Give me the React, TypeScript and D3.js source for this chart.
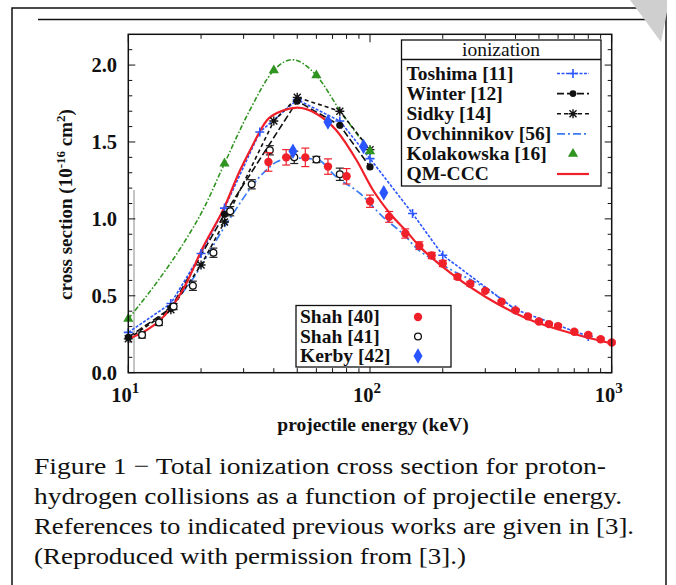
import React from "react";
import * as d3 from "d3";

// ---------- data ----------
const xMajorExps = [1, 2, 3];
const yTickValues = [0, 0.5, 1.0, 1.5, 2.0];

const toshimaE = [10, 15, 20, 25, 35, 50, 75, 100, 150, 200, 400, 800];
const toshimaS = [0.262, 0.45, 0.775, 1.07, 1.565, 1.775, 1.636, 1.392, 1.035, 0.764, 0.41, 0.236];

const winterE = [10, 15, 25, 50, 75, 100];
const winterS = [0.23, 0.42, 1.03, 1.766, 1.608, 1.338];

const sidkyE = [10, 15, 20, 25, 40, 50, 75, 100];
const sidkyS = [0.22, 0.41, 0.7, 0.98, 1.636, 1.79, 1.7, 1.45];

const ovchE = [15, 18.3, 25, 29.5, 32, 38, 41, 48, 60, 72.5, 91, 113, 141, 151, 200, 300, 400];
const ovchS = [0.43, 0.6, 0.948, 1.12, 1.2, 1.33, 1.37, 1.395, 1.388, 1.273, 1.165, 1.013, 0.883, 0.83, 0.7, 0.55, 0.41];

const kolCurveE = [10, 13.3, 16.6, 20.7, 25, 31.8, 40, 47.5, 60, 75, 100];
const kolCurveS = [0.35, 0.6, 0.82, 1.08, 1.36, 1.706, 1.966, 2.035, 1.933, 1.706, 1.44];
const kolPointE = [10, 25, 40, 60, 100];
const kolPointS = [0.35, 1.36, 1.966, 1.933, 1.44];

const cccE = [10, 12, 13.3, 15, 17.5, 20, 25, 29, 32, 37.4, 44, 50, 60, 72.5, 88, 103, 121, 142, 161, 200, 300, 445, 650, 1000];
const cccS = [0.219, 0.28, 0.331, 0.42, 0.59, 0.79, 1.078, 1.316, 1.45, 1.64, 1.706, 1.723, 1.684, 1.576, 1.381, 1.186, 1.035, 0.916, 0.818, 0.688, 0.494, 0.353, 0.266, 0.19];

const shah40E = [38, 45, 54, 67, 80, 100, 120, 140, 160, 180, 200, 230, 260, 300, 350, 400, 450, 500, 550, 600, 700, 800, 900, 1000];
const shah40S = [1.37, 1.4, 1.4, 1.34, 1.277, 1.115, 1.013, 0.905, 0.826, 0.762, 0.71, 0.623, 0.578, 0.532, 0.461, 0.405, 0.366, 0.333, 0.316, 0.303, 0.266, 0.245, 0.217, 0.196];
const shah40Err = [0.06, 0.05, 0.06, 0.05, 0.05, 0.04, 0.035, 0.03, 0.025, 0.02, 0.02, 0.015, 0.015, 0.01, 0.01, 0.01, 0.01, 0.01, 0.01, 0.01, 0.01, 0.01, 0.01, 0.01];

const shah41E = [11.4, 13.4, 15.4, 18.5, 22.5, 26.4, 32.4, 38.5, 48.6, 60, 75];
const shah41S = [0.245, 0.327, 0.43, 0.565, 0.78, 1.05, 1.225, 1.446, 1.4, 1.386, 1.29];
const shah41Err = [0.02, 0.02, 0.02, 0.03, 0.03, 0.03, 0.03, 0.03, 0.04, 0.02, 0.04];

const kerbyE = [48, 67, 94, 114];
const kerbyS = [1.44, 1.63, 1.47, 1.17];

const legendTopLabels = ["Toshima [11]", "Winter [12]", "Sidky [14]", "Ovchinnikov [56]", "Kolakowska [16]", "QM-CCC"];
const legendBottomLabels = ["Shah [40]", "Shah [41]", "Kerby [42]"];
const captionLines = [
  "Figure 1 \u2212 Total ionization cross section for proton-",
  "hydrogen collisions as a function of projectile energy.",
  "References to indicated previous works are given in [3].",
  "(Reproduced with permission from [3].)",
];

// ---------- styles / layout ----------
const BLUE = "#2a55ff";
const BLUE2 = "#3a7cf5";
const RED = "#f0202a";
const GREEN = "#2f9420";
const SERIF = "'Liberation Serif', 'Times New Roman', serif";
const CAPTION_WIDTHS = [572, 588, 600, 432];

const W = 676, H = 585;
const PL = 128.3, PR = 611.7, PT = 34.3, PB = 372.7;

export default function App() {
  const x = d3.scaleLog().domain([10, 1000]).range([PL, PR]);
  const y = d3.scaleLinear().domain([0, 2.2]).range([PB, PT]);

  const zip = (a: number[], b: number[]) => a.map((v, i) => [v, b[i]] as [number, number]);
  const lin = d3.line<[number, number]>().x((d) => x(d[0])).y((d) => y(d[1]));
  const smooth = d3.line<[number, number]>().x((d) => x(d[0])).y((d) => y(d[1])).curve(d3.curveMonotoneX);

  const minorX: number[] = [];
  [10, 100].forEach((b) => { for (let k = 2; k <= 9; k++) minorX.push(b * k); });
  const minorY = d3.range(0, 22).map((i) => i / 10).filter((v) => Math.abs(v * 2 - Math.round(v * 2)) > 1e-6);

  const plusPath = "M-4.5,0H4.5M0,-4.5V4.5";
  const starPath = "M-4.5,0H4.5M0,-4.5V4.5M-3.5,-3.5L3.5,3.5M-3.5,3.5L3.5,-3.5";
  const tri = d3.symbol().type(d3.symbolTriangle).size(45)() as string;
  const diamond = d3.symbol().type(d3.symbolDiamond).size(70)() as string;

  const errBar = (E: number, S: number, e: number, color: string, key: string) => (
    <g key={key} stroke={color} strokeWidth={1.2}>
      <line x1={x(E)} x2={x(E)} y1={y(S - e)} y2={y(S + e)} />
      <line x1={x(E) - 4} x2={x(E) + 4} y1={y(S - e)} y2={y(S - e)} />
      <line x1={x(E) - 4} x2={x(E) + 4} y1={y(S + e)} y2={y(S + e)} />
    </g>
  );

  const legRowY = (i: number) => 79.5 + i * 20.1;
  const botRowY = (i: number) => 323 + i * 19.5;

  return (
    <svg width={W} height={H} style={{ position: "absolute", left: 0, top: 0, background: "#fff" }} fontFamily={SERIF}>
      {/* page frame */}
      <rect x={12} y={8} width={654} height={600} fill="none" stroke="#111" strokeWidth={1.5} />
      <line x1={38} x2={655} y1={19.5} y2={19.5} stroke="#111" strokeWidth={1.5} />
      <path d="M630,0 L667,0 L667,12 L661,42 Q645,20 630,0 Z" fill="#cfcfcf" />

      <defs>
        <clipPath id="plotclip"><rect x={PL} y={PT} width={PR - PL} height={PB - PT} /></clipPath>
      </defs>

      {/* scan artifact line */}
      <line x1={134} x2={134} y1={190} y2={PB} stroke="#8a8a8a" strokeWidth={1} />

      {/* ticks */}
      <g stroke="#111" strokeWidth={1}>
        {xMajorExps.map((p) => (
          <g key={"xm" + p}>
            <line x1={x(10 ** p)} x2={x(10 ** p)} y1={PB} y2={PB - 8} />
            <line x1={x(10 ** p)} x2={x(10 ** p)} y1={PT} y2={PT + 8} />
          </g>
        ))}
        {minorX.map((v) => (
          <g key={"xn" + v}>
            <line x1={x(v)} x2={x(v)} y1={PB} y2={PB - 4.5} />
            <line x1={x(v)} x2={x(v)} y1={PT} y2={PT + 4.5} />
          </g>
        ))}
        {yTickValues.map((v) => (
          <g key={"ym" + v}>
            <line x1={PL} x2={PL + 7} y1={y(v)} y2={y(v)} />
            <line x1={PR} x2={PR - 7} y1={y(v)} y2={y(v)} />
          </g>
        ))}
        {minorY.map((v) => (
          <g key={"yn" + v}>
            <line x1={PL} x2={PL + 4} y1={y(v)} y2={y(v)} />
            <line x1={PR} x2={PR - 4} y1={y(v)} y2={y(v)} />
          </g>
        ))}
      </g>

      {/* curves */}
      <g clipPath="url(#plotclip)" fill="none">
        <path d={smooth(zip(kolCurveE, kolCurveS)) as string} stroke={GREEN} strokeWidth={1.6} strokeDasharray="5,2,1.5,2" />
        <path d={smooth(zip(ovchE, ovchS)) as string} stroke={BLUE2} strokeWidth={1.7} strokeDasharray="8,3,2,3" />
        <path d={lin(zip(toshimaE, toshimaS)) as string} stroke={BLUE} strokeWidth={1.6} strokeDasharray="3,1.5" />
        <path d={lin(zip(winterE, winterS)) as string} stroke="#111" strokeWidth={1.6} strokeDasharray="7,3" />
        <path d={lin(zip(sidkyE, sidkyS)) as string} stroke="#111" strokeWidth={1.6} strokeDasharray="4,3" />
        <path d={smooth(zip(cccE, cccS)) as string} stroke={RED} strokeWidth={2.2} />
      </g>

      {/* markers */}
      <g>
        {toshimaE.map((E, i) => (
          <path key={"t" + i} d={plusPath} transform={`translate(${x(E)},${y(toshimaS[i])})`} stroke={BLUE} strokeWidth={1.6} fill="none" />
        ))}
        {winterE.map((E, i) => (
          <circle key={"w" + i} cx={x(E)} cy={y(winterS[i])} r={3.6} fill="#111" />
        ))}
        {sidkyE.map((E, i) => (
          <path key={"s" + i} d={starPath} transform={`translate(${x(E)},${y(sidkyS[i])})`} stroke="#111" strokeWidth={1.4} fill="none" />
        ))}
        {kolPointE.map((E, i) => (
          <path key={"k" + i} d={tri} transform={`translate(${x(E)},${y(kolPointS[i])})`} fill={GREEN} />
        ))}
        {shah41E.map((E, i) => errBar(E, shah41S[i], shah41Err[i], "#222", "e41" + i))}
        {shah41E.map((E, i) => (
          <circle key={"o" + i} cx={x(E)} cy={y(shah41S[i])} r={3.4} fill="#fff" stroke="#111" strokeWidth={1.3} />
        ))}
        {shah40E.map((E, i) => errBar(E, shah40S[i], shah40Err[i], RED, "e40" + i))}
        {shah40E.map((E, i) => (
          <circle key={"r" + i} cx={x(E)} cy={y(shah40S[i])} r={4.2} fill={RED} />
        ))}
        {kerbyE.map((E, i) => (
          <path key={"kb" + i} d={diamond} transform={`translate(${x(E)},${y(kerbyS[i])})`} fill={BLUE} />
        ))}
      </g>

      {/* frame */}
      <rect x={PL} y={PT} width={PR - PL} height={PB - PT} fill="none" stroke="#111" strokeWidth={1.5} />

      {/* axis tick labels */}
      <g fontWeight="bold" fontSize={20.5} fill="#111">
        {yTickValues.map((v) => (
          <text key={"yl" + v} x={117} y={y(v)} dy="0.35em" textAnchor="end">{v.toFixed(1)}</text>
        ))}
        {xMajorExps.map((p) => (
          <text key={"xl" + p} x={x(10 ** p) - 3} y={402} textAnchor="middle">
            10<tspan fontSize={15} dy={-9}>{p}</tspan>
          </text>
        ))}
      </g>

      {/* axis titles */}
      <text x={373} y={431} textAnchor="middle" fontWeight="bold" fontSize={19.5} fill="#111">projectile energy (keV)</text>
      <text transform={`translate(72,${(PT + PB) / 2 + 1}) rotate(-90)`} textAnchor="middle" fontWeight="bold" fontSize={19} fill="#111">
        cross section (10<tspan fontSize={13} dy={-7}>-16</tspan><tspan dy={7}> cm</tspan><tspan fontSize={13} dy={-7}>2</tspan><tspan dy={7}>)</tspan>
      </text>

      {/* top legend */}
      <rect x={401.5} y={40} width={199.5} height={146} fill="#fff" stroke="#111" strokeWidth={1.3} />
      <line x1={401.5} x2={601} y1={59.5} y2={59.5} stroke="#111" strokeWidth={1.3} />
      <text x={501} y={56} textAnchor="middle" fontSize={19.5} fill="#111">ionization</text>
      <g fontWeight="bold" fontSize={19.5} fill="#111">
        {legendTopLabels.map((t, i) => (
          <text key={"lt" + i} x={406.5} y={legRowY(i)}>{t}</text>
        ))}
      </g>
      <g fill="none">
        <line x1={557} x2={589} y1={legRowY(0) - 6} y2={legRowY(0) - 6} stroke={BLUE} strokeWidth={1.6} strokeDasharray="3,1.5" />
        <path d={plusPath} transform={`translate(573,${legRowY(0) - 6})`} stroke={BLUE} strokeWidth={1.6} />
        <line x1={557} x2={589} y1={legRowY(1) - 6} y2={legRowY(1) - 6} stroke="#111" strokeWidth={1.6} strokeDasharray="7,3" />
        <circle cx={573} cy={legRowY(1) - 6} r={3.4} fill="#111" />
        <line x1={557} x2={589} y1={legRowY(2) - 6} y2={legRowY(2) - 6} stroke="#111" strokeWidth={1.6} strokeDasharray="4,3" />
        <path d={starPath} transform={`translate(573,${legRowY(2) - 6})`} stroke="#111" strokeWidth={1.4} />
        <line x1={557} x2={589} y1={legRowY(3) - 6} y2={legRowY(3) - 6} stroke={BLUE2} strokeWidth={1.7} strokeDasharray="8,3,2,3" />
        <path d={tri} transform={`translate(573,${legRowY(4) - 6})`} fill={GREEN} />
        <line x1={557} x2={589} y1={legRowY(5) - 6} y2={legRowY(5) - 6} stroke={RED} strokeWidth={2.2} />
      </g>

      {/* bottom legend */}
      <rect x={296} y={305.5} width={155} height={61.5} fill="#fff" stroke="#111" strokeWidth={1.3} />
      <g fontWeight="bold" fontSize={19.5} fill="#111">
        {legendBottomLabels.map((t, i) => (
          <text key={"lb" + i} x={300} y={botRowY(i)}>{t}</text>
        ))}
      </g>
      <circle cx={418} cy={botRowY(0) - 6} r={4.2} fill={RED} />
      <circle cx={418} cy={botRowY(1) - 6} r={3.4} fill="#fff" stroke="#111" strokeWidth={1.3} />
      <path d={diamond} transform={`translate(418,${botRowY(2) - 6})`} fill={BLUE} />

      {/* caption */}
      <g fontSize={24} fill="#111">
        {captionLines.map((t, i) => (
          <text key={"c" + i} x={34} y={474 + i * 30} textLength={CAPTION_WIDTHS[i]} lengthAdjust="spacingAndGlyphs">{t}</text>
        ))}
      </g>
    </svg>
  );
}
